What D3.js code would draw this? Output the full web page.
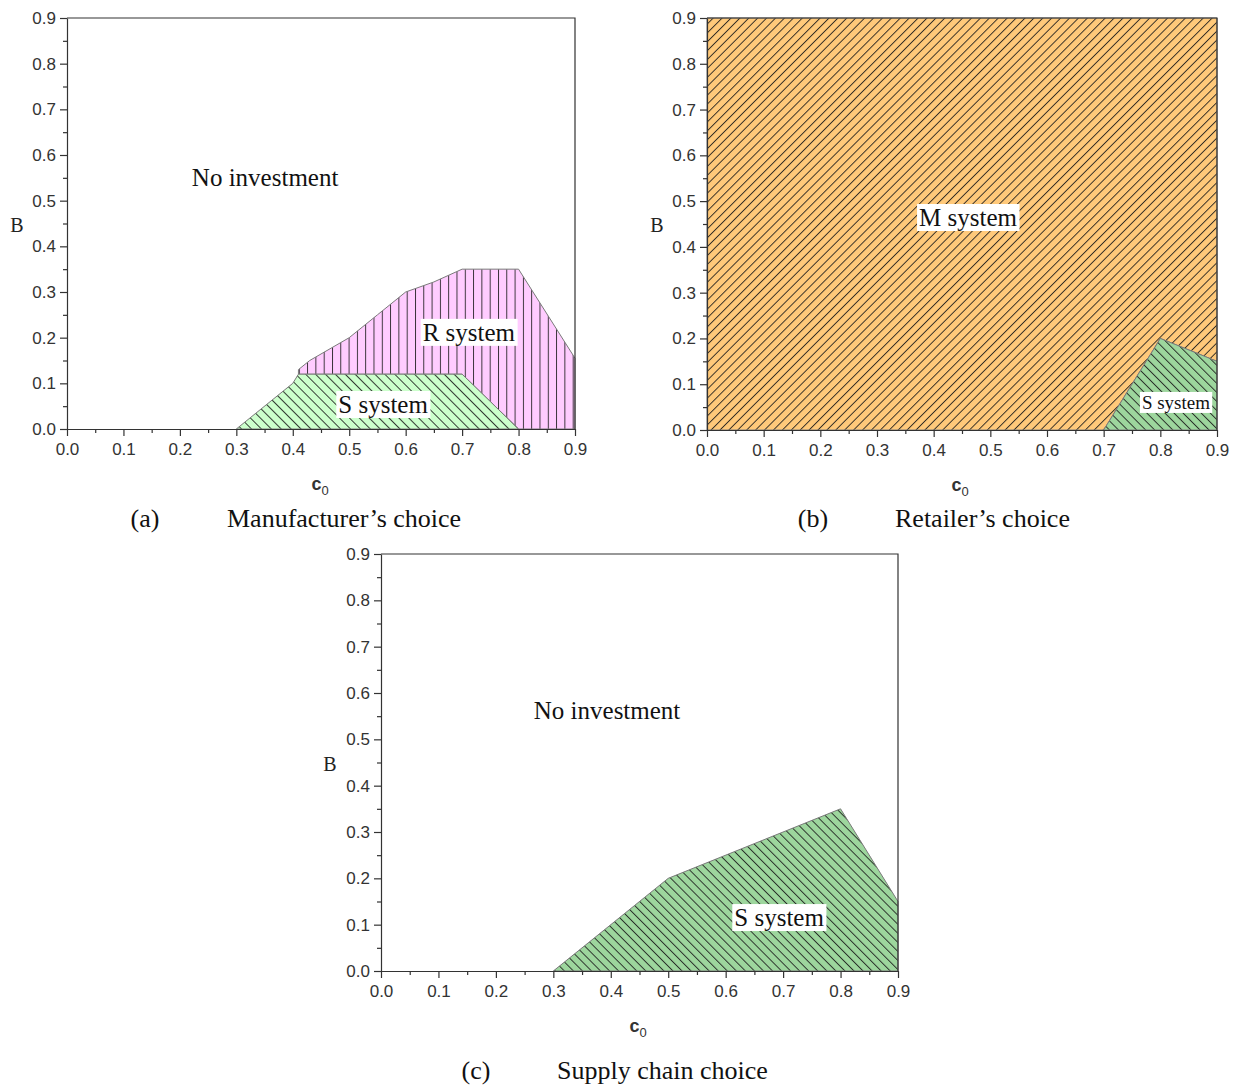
<!DOCTYPE html>
<html>
<head>
<meta charset="utf-8">
<script src="https://cdn.jsdelivr.net/npm/d3@7"></script>
<style>
  html, body { margin: 0; padding: 0; background: #fff; }
  svg { display: block; }
</style>
</head>
<body>
<svg id="chart" width="1237" height="1086"></svg>
<script>
// Axis domain and tick values shared by the three panels
const xTicks = [0, 0.1, 0.2, 0.3, 0.4, 0.5, 0.6, 0.7, 0.8, 0.9];
const yTicks = [0, 0.1, 0.2, 0.3, 0.4, 0.5, 0.6, 0.7, 0.8, 0.9];
const minorTicks = [0.05, 0.15, 0.25, 0.35, 0.45, 0.55, 0.65, 0.75, 0.85];

// Region boundaries as (c0, B) vertices
const manufacturerR = [[0.41, 0.12], [0.41, 0.13], [0.43, 0.15], [0.5, 0.2], [0.55, 0.25], [0.6, 0.3],
  [0.65, 0.322], [0.7, 0.35], [0.8, 0.35], [0.9, 0.155], [0.9, 0], [0.8, 0], [0.7, 0.12]];
const manufacturerS = [[0.3, 0], [0.4, 0.1], [0.41, 0.12], [0.7, 0.12], [0.8, 0]];
const retailerM = [[0, 0], [0, 0.9], [0.9, 0.9], [0.9, 0.15], [0.8, 0.2], [0.7, 0]];
const retailerS = [[0.7, 0], [0.8, 0.2], [0.9, 0.15], [0.9, 0]];
const supplyS = [[0.3, 0], [0.5, 0.2], [0.8, 0.35], [0.9, 0.15], [0.9, 0]];

const svg = d3.select("#chart");
const defs = svg.append("defs");

// Hatch patterns
function hatch(id, fill, angle, gap) {
  const p = defs.append("pattern")
    .attr("id", id)
    .attr("patternUnits", "userSpaceOnUse")
    .attr("width", gap).attr("height", gap)
    .attr("patternTransform", `rotate(${angle})`);
  p.append("rect").attr("width", gap).attr("height", gap).attr("fill", fill);
  p.append("line").attr("x1", 0.5).attr("y1", 0).attr("x2", 0.5).attr("y2", gap)
    .attr("stroke", "#1a1a1a").attr("stroke-width", 0.85);
}
hatch("hatchPink", "#FFCCFF", 0, 8.3);
hatch("hatchLightGreen", "#CCFFCC", -45, 7);
hatch("hatchOrange", "#FFC97A", 45, 6.3);
hatch("hatchGreen", "#9DD69D", -45, 6.4);

const panels = [
  { x0: 67, x1: 575, y0: 18, y1: 429,
    regions: [ { pts: manufacturerR, fill: "url(#hatchPink)" },
               { pts: manufacturerS, fill: "url(#hatchLightGreen)" } ],
    labels: [ { text: "No investment", x: 0.351, y: 0.532, size: 25, box: false },
              { text: "R system", x: 0.712, y: 0.193, size: 25, box: true },
              { text: "S system", x: 0.56, y: 0.035, size: 25, box: true } ],
    yLabelX: 17, cX: 320, capY: 527, capTag: "(a)", capTagX: 145, capText: "Manufacturer\u2019s choice", capTextX: 227 },
  { x0: 707, x1: 1217, y0: 18, y1: 430,
    regions: [ { pts: retailerM, fill: "url(#hatchOrange)" },
               { pts: retailerS, fill: "url(#hatchGreen)" } ],
    labels: [ { text: "M system", x: 0.4606, y: 0.4456, size: 25, box: true },
              { text: "S system", x: 0.8276, y: 0.046, size: 19, box: true } ],
    yLabelX: 657, cX: 960, capY: 527, capTag: "(b)", capTagX: 813, capText: "Retailer\u2019s choice", capTextX: 895 },
  { x0: 381, x1: 898, y0: 554, y1: 971,
    regions: [ { pts: supplyS, fill: "url(#hatchGreen)" } ],
    labels: [ { text: "No investment", x: 0.3935, y: 0.544, size: 25, box: false },
              { text: "S system", x: 0.693, y: 0.097, size: 25, box: true } ],
    yLabelX: 330, cX: 638, capY: 1079, capTag: "(c)", capTagX: 476, capText: "Supply chain choice", capTextX: 557 }
];

const serif = "'Liberation Serif', 'Times New Roman', serif";
const sans = "'Liberation Sans', Arial, sans-serif";

panels.forEach(p => {
  const x = d3.scaleLinear().domain([0, 0.9]).range([p.x0, p.x1]);
  const y = d3.scaleLinear().domain([0, 0.9]).range([p.y1, p.y0]);
  const g = svg.append("g");

  const line = d3.line().x(d => x(d[0])).y(d => y(d[1]));
  p.regions.forEach(r => {
    g.append("path").attr("d", line(r.pts) + "Z")
      .attr("fill", r.fill).attr("stroke", "#7a7a7a").attr("stroke-width", 1);
  });

  // Frame (top and right)
  g.append("path")
    .attr("d", `M${p.x0},${p.y0}H${p.x1}V${p.y1}`)
    .attr("fill", "none").attr("stroke", "#333").attr("stroke-width", 1.2);

  // Bottom axis
  const xAxis = d3.axisBottom(x).tickValues(xTicks).tickFormat(d3.format(".1f"))
    .tickSize(7).tickSizeOuter(0).tickPadding(7);
  const gx = g.append("g").attr("transform", `translate(0,${p.y1})`).call(xAxis);
  const xMinor = d3.axisBottom(x).tickValues(minorTicks).tickFormat("").tickSize(4).tickSizeOuter(0);
  g.append("g").attr("transform", `translate(0,${p.y1})`).call(xMinor).select(".domain").remove();

  // Left axis
  const yAxis = d3.axisLeft(y).tickValues(yTicks).tickFormat(d3.format(".1f"))
    .tickSize(7).tickSizeOuter(0).tickPadding(4);
  const gy = g.append("g").attr("transform", `translate(${p.x0},0)`).call(yAxis);
  const yMinor = d3.axisLeft(y).tickValues(minorTicks).tickFormat("").tickSize(4).tickSizeOuter(0);
  g.append("g").attr("transform", `translate(${p.x0},0)`).call(yMinor).select(".domain").remove();

  g.selectAll(".domain, .tick line").attr("stroke", "#333").attr("stroke-width", 1.2);
  [gx, gy].forEach(a => a.selectAll("text")
    .attr("font-family", sans).attr("font-size", 17).attr("fill", "#333"));

  // Region labels
  p.labels.forEach(l => {
    const t = g.append("text")
      .attr("x", x(l.x)).attr("y", y(l.y))
      .attr("text-anchor", "middle")
      .attr("font-family", serif).attr("font-size", l.size).attr("fill", "#111")
      .text(l.text);
    if (l.box) {
      const b = t.node().getBBox();
      g.insert("rect", () => t.node())
        .attr("x", b.x - 2).attr("y", b.y)
        .attr("width", b.width + 4).attr("height", b.height)
        .attr("fill", "#fff");
    }
  });

  // Axis titles
  g.append("text").attr("x", p.yLabelX).attr("y", (p.y0 + p.y1) / 2 + 8)
    .attr("text-anchor", "middle").attr("font-family", serif).attr("font-size", 20)
    .attr("fill", "#222").text("B");
  const ct = g.append("text").attr("x", p.cX).attr("y", p.y1 + 61)
    .attr("text-anchor", "middle").attr("font-family", sans).attr("font-size", 18)
    .attr("font-weight", "bold").attr("fill", "#333");
  ct.append("tspan").text("c");
  ct.append("tspan").attr("dy", 5).attr("font-size", 13).attr("font-weight", "normal").text("0");

  // Caption
  svg.append("text").attr("x", p.capTagX).attr("y", p.capY).attr("text-anchor", "middle")
    .attr("font-family", serif).attr("font-size", 26).attr("fill", "#111").text(p.capTag);
  svg.append("text").attr("x", p.capTextX).attr("y", p.capY)
    .attr("font-family", serif).attr("font-size", 26).attr("fill", "#111").text(p.capText);
});
</script>
</body>
</html>
